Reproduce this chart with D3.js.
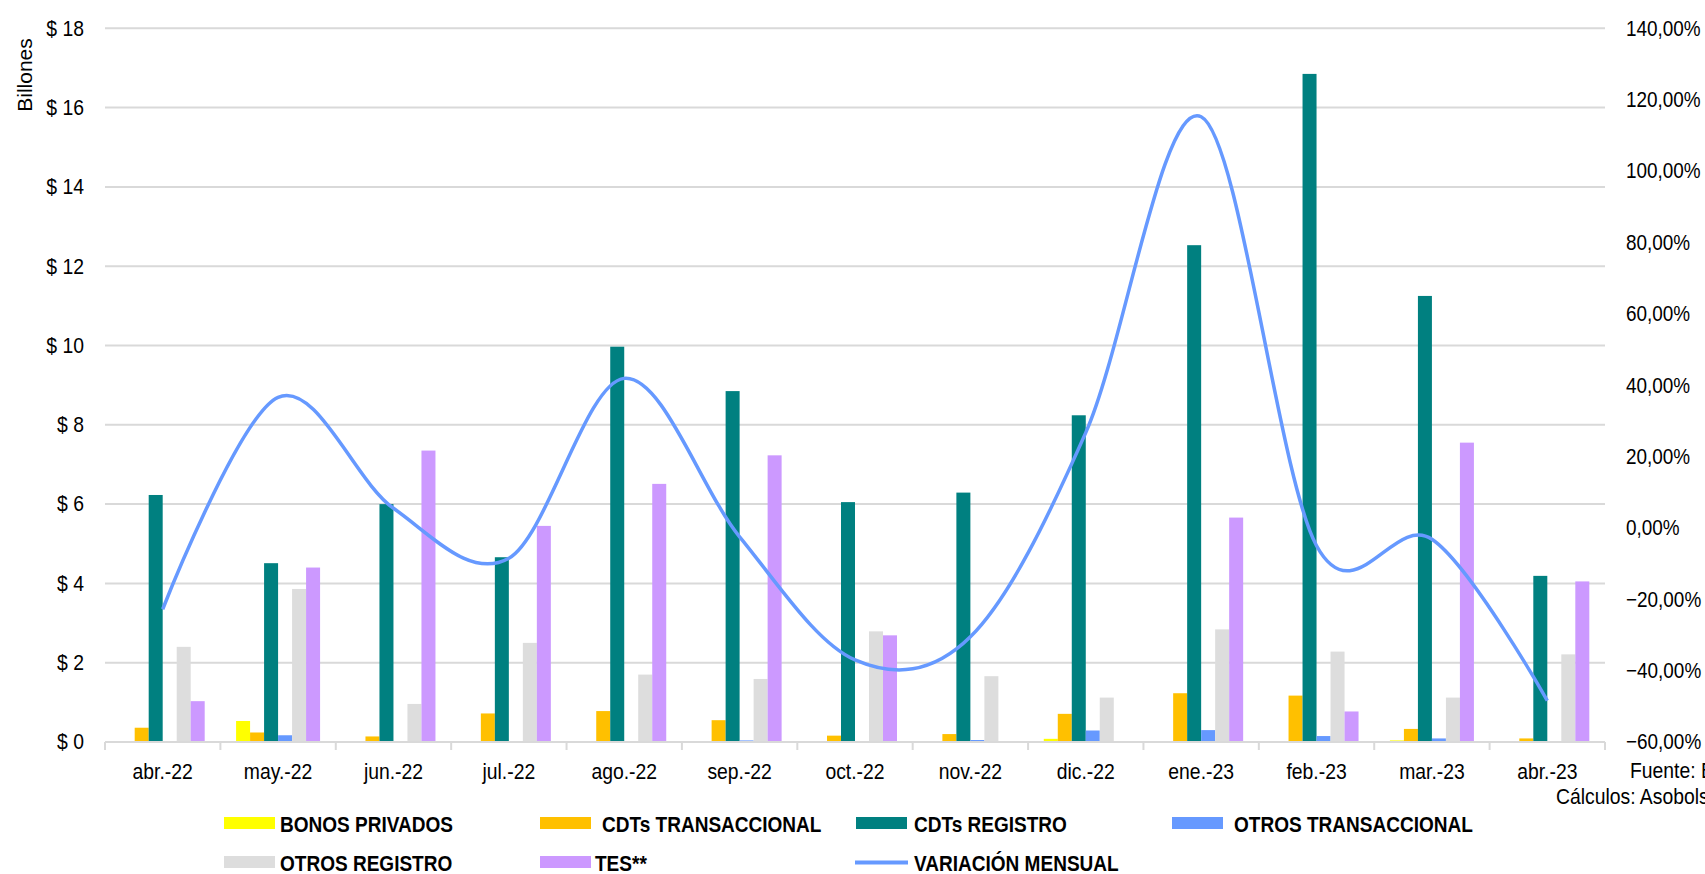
<!DOCTYPE html>
<html>
<head>
<meta charset="utf-8">
<script src="https://cdn.jsdelivr.net/npm/d3@7"></script>
<style>
  html, body { margin: 0; padding: 0; background: #fff; overflow: hidden; }
  text { font-family: Arial, "Liberation Sans", sans-serif; fill: #000; }
</style>
</head>
<body>
<svg id="chart" width="1705" height="874"></svg>
<script>
// ---------- DATA ----------
const categories = ["abr.-22","may.-22","jun.-22","jul.-22","ago.-22","sep.-22","oct.-22","nov.-22","dic.-22","ene.-23","feb.-23","mar.-23","abr.-23"];
const bonosPrivados     = [0, 0.53, 0.02, 0, 0, 0, 0, 0, 0.08, 0, 0, 0.04, 0];
const cdtsTransaccional = [0.36, 0.24, 0.14, 0.72, 0.78, 0.55, 0.16, 0.20, 0.71, 1.23, 1.17, 0.33, 0.09];
const cdtsRegistro      = [6.23, 4.51, 6.00, 4.66, 9.97, 8.85, 6.05, 6.29, 8.24, 12.53, 16.85, 11.25, 4.19];
const otrosTransaccional= [0.02, 0.17, 0, 0, 0, 0.04, 0, 0.05, 0.29, 0.30, 0.15, 0.09, 0];
const otrosRegistro     = [2.40, 3.86, 0.96, 2.50, 1.70, 1.59, 2.79, 1.66, 1.12, 2.84, 2.28, 1.12, 2.21];
const tes               = [1.03, 4.40, 7.35, 5.45, 6.51, 7.23, 2.69, 0, 0, 5.66, 0.77, 7.55, 4.05];
const variacionMensual  = [-22.8, 36.6, 5.5, -8.5, 41.9, -2.5, -37.0, -30.5, 26.7, 115.2, -5.0, -3.2, -48.4];
const leftTicks  = [0, 2, 4, 6, 8, 10, 12, 14, 16, 18];
const rightTicks = [-60, -40, -20, 0, 20, 40, 60, 80, 100, 120, 140];
const seriesNames  = ["BONOS PRIVADOS", "CDTs TRANSACCIONAL", "CDTs REGISTRO", "OTROS TRANSACCIONAL", "OTROS REGISTRO", "TES**"];
const seriesColors = ["#FFFF00", "#FFC000", "#008080", "#6699FF", "#DDDDDD", "#CC99FF"];
const lineName = "VARIACIÓN MENSUAL";
const lineColor = "#6699FF";
const leftAxisTitle = "Billones";
const sourceLines = ["Fuente: BVC", "Cálculos: Asobolsa"];

const seriesValues = [bonosPrivados, cdtsTransaccional, cdtsRegistro, otrosTransaccional, otrosRegistro, tes];

// ---------- LAYOUT ----------
const FONT = "Arial, 'Liberation Sans', sans-serif";
const FS = 21.5, SX = 0.9;
const svg = d3.select("#chart");
const plot = { left: 105, right: 1605, top: 28.3, bottom: 742 };

const x0 = d3.scaleBand().domain(categories).range([plot.left, plot.right])
  .paddingInner(0.272).paddingOuter(0.136);
const x1 = d3.scaleBand().domain(d3.range(seriesNames.length)).range([0, x0.bandwidth()]).padding(0);
const yL = d3.scaleLinear().domain([0, 18]).range([plot.bottom, plot.top]);
const yR = d3.scaleLinear().domain([-60, 140]).range([plot.bottom, plot.top]);

function styleText(sel, size, sx) {
  sel.attr("font-size", size).attr("font-family", FONT).attr("fill", "#000")
     .attr("transform", `scale(${sx},1)`);
}

// gridlines
svg.append("g").selectAll("line").data(leftTicks.filter(d => d > 0)).join("line")
  .attr("x1", plot.left).attr("x2", plot.right)
  .attr("y1", d => yL(d)).attr("y2", d => yL(d))
  .attr("stroke", "#d9d9d9").attr("stroke-width", 2);

// left axis
const leftAxis = svg.append("g").attr("transform", `translate(${plot.left - 21},0)`)
  .call(d3.axisLeft(yL).tickValues(leftTicks).tickSize(0).tickPadding(0).tickFormat(d => "$ " + d));
leftAxis.select(".domain").remove();
styleText(leftAxis.selectAll("text"), FS, SX);

// right axis
const rightAxis = svg.append("g").attr("transform", `translate(${plot.right + 21},0)`)
  .call(d3.axisRight(yR).tickValues(rightTicks).tickSize(0).tickPadding(0)
    .tickFormat(d => d3.format(".2f")(d).replace(".", ",") + "%"));
rightAxis.select(".domain").remove();
styleText(rightAxis.selectAll("text"), FS, 0.88);

// left axis title
svg.append("text").attr("transform", "translate(32,75) rotate(-90)")
  .attr("text-anchor", "middle").attr("font-size", 21).text(leftAxisTitle);

// bars
const groups = svg.append("g").selectAll("g").data(categories).join("g")
  .attr("transform", c => `translate(${x0(c)},0)`);
groups.selectAll("rect").data((c, i) => seriesValues.map((arr, s) => ({ s, v: arr[i] })))
  .join("rect")
  .attr("x", d => x1(d.s)).attr("width", x1.bandwidth())
  .attr("y", d => yL(d.v)).attr("height", d => yL(0) - yL(d.v))
  .attr("fill", d => seriesColors[d.s]);

// category axis
const xAxis = svg.append("g").attr("transform", `translate(0,${plot.bottom})`)
  .call(d3.axisBottom(x0).tickSize(0).tickPadding(22));
xAxis.select(".domain").remove();
styleText(xAxis.selectAll("text"), FS, SX);
svg.append("line").attr("x1", plot.left).attr("x2", plot.right)
  .attr("y1", plot.bottom).attr("y2", plot.bottom).attr("stroke", "#d9d9d9").attr("stroke-width", 2);
const boundaries = categories.map(c => x0(c) - x0.step() * x0.paddingInner() / 2).concat([plot.right]);
svg.append("g").selectAll("line").data(boundaries).join("line")
  .attr("x1", d => d).attr("x2", d => d).attr("y1", plot.bottom).attr("y2", plot.bottom + 8)
  .attr("stroke", "#d9d9d9").attr("stroke-width", 2);

// line
const line = d3.line()
  .x((d, i) => x0(categories[i]) + x0.bandwidth() / 2)
  .y(d => yR(d))
  .curve(d3.curveCardinal.tension(0));
svg.append("path").datum(variacionMensual).attr("d", line)
  .attr("fill", "none").attr("stroke", lineColor).attr("stroke-width", 3.5);

// legend
const legendItems = [
  { type: "rect", s: 0, x: 224, tx: 280, row: 0 },
  { type: "rect", s: 1, x: 540, tx: 602, row: 0 },
  { type: "rect", s: 2, x: 856, tx: 914, row: 0 },
  { type: "rect", s: 3, x: 1172, tx: 1234, row: 0 },
  { type: "rect", s: 4, x: 224, tx: 280, row: 1 },
  { type: "rect", s: 5, x: 540, tx: 595, row: 1 },
  { type: "line", s: -1, x: 855, tx: 914, row: 1 }
];
const legend = svg.append("g");
legendItems.forEach(it => {
  const base = 831.5 + it.row * 39;
  if (it.type === "rect") {
    legend.append("rect").attr("x", it.x).attr("y", base - 14.5).attr("width", 51).attr("height", 12)
      .attr("fill", seriesColors[it.s]);
  } else {
    legend.append("line").attr("x1", it.x).attr("x2", it.x + 53).attr("y1", base - 8).attr("y2", base - 8)
      .attr("stroke", lineColor).attr("stroke-width", 4);
  }
  legend.append("g").attr("transform", `translate(${it.tx},${base})`)
    .append("text").attr("font-size", FS).attr("font-weight", "bold").attr("transform", "scale(0.885,1)")
    .text(it.type === "rect" ? seriesNames[it.s] : lineName);
});

// source
svg.append("g").attr("transform", "translate(1630,778)").append("text")
  .attr("font-size", FS).attr("transform", `scale(${SX},1)`).text(sourceLines[0]);
svg.append("g").attr("transform", "translate(1556,804)").append("text")
  .attr("font-size", FS).attr("transform", `scale(${SX},1)`).text(sourceLines[1]);
</script>
</body>
</html>
